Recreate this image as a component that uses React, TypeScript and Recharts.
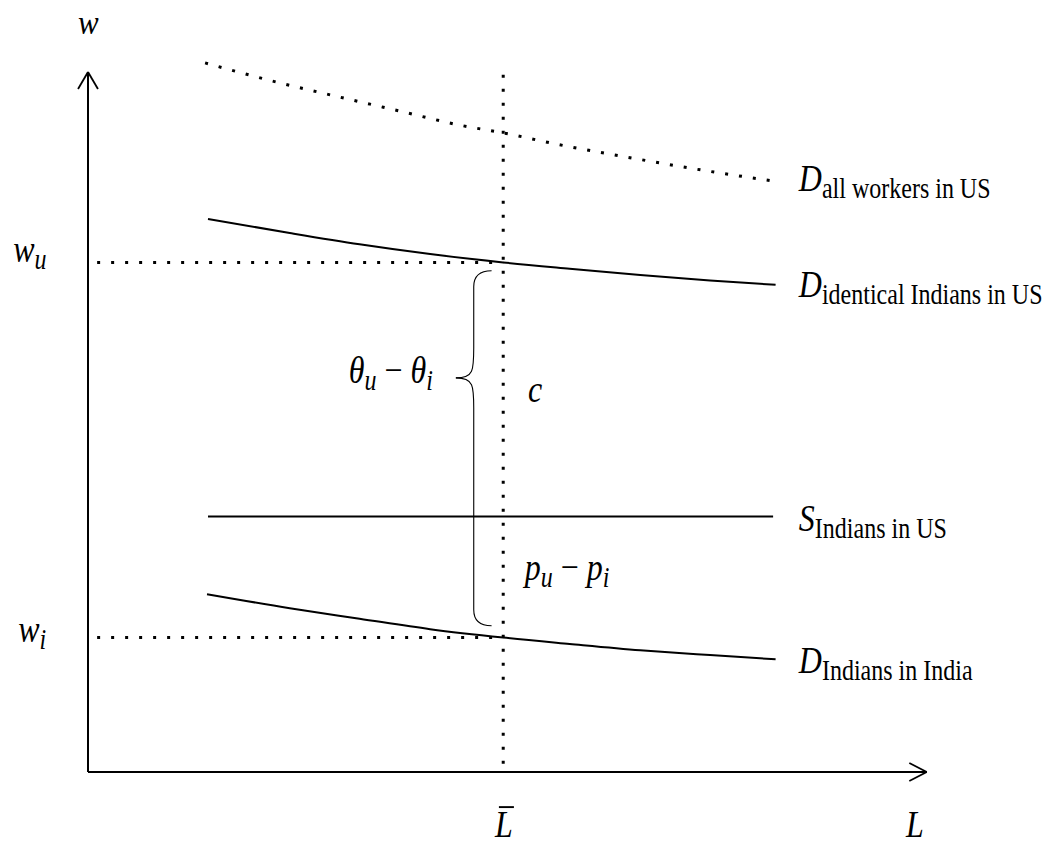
import React from 'react';
import { ComposedChart, Line, XAxis, YAxis, ReferenceLine, ReferenceDot } from 'recharts';

// labour L (x) and wage w (y); L-bar = 50
const allWorkersL = [14.1, 21.9, 30.0, 37.6, 44.8, 50, 56.8, 66.5, 74.9, 82.7];
const allWorkersW = [101.3, 98.8, 96.5, 94.4, 92.4, 91.3, 89.6, 87.5, 85.8, 84.4];
const identicalL = [14.45, 24.3, 32.7, 41.2, 50, 58.0, 66.5, 74.9, 82.8];
const identicalW = [79.0, 77.0, 75.4, 74.0, 72.8, 71.9, 71.0, 70.2, 69.6];
const supplyL = [14.45, 82.5];
const supplyW = [36.5, 36.5];
const indiaL = [14.33, 24.3, 32.7, 41.2, 50, 58.0, 66.5, 74.9, 82.8];
const indiaW = [25.4, 23.4, 21.9, 20.4, 19.2, 18.3, 17.4, 16.7, 16.1];

const L_BAR = 50;
const W_U = 72.8;
const W_I = 19.2;

const zip = (ls: number[], ws: number[]) => ls.map((L, i) => ({ L, w: ws[i] }));

const allWorkers = zip(allWorkersL, allWorkersW);
const identical = zip(identicalL, identicalW);
const supply = zip(supplyL, supplyW);
const india = zip(indiaL, indiaW);

const FONT = '"Liberation Serif", "Times New Roman", serif';
const DOTS = '3 11';

type Part = { t: string; size?: number; italic?: boolean; dy?: number };

const MathText = ({ cx, cy, parts, bar, stretch = 1.2 }: { cx?: number; cy?: number; parts: Part[]; bar?: boolean; stretch?: number }) => (
  <g transform={`translate(${cx},${cy}) scale(1,${stretch})`}>
    <text x={0} y={0} fontFamily={FONT} fill="#000">
      {parts.map((p, i) => (
        <tspan
          key={i}
          fontSize={p.size ?? 32}
          fontStyle={p.italic === false ? 'normal' : 'italic'}
          dy={p.dy ?? 0}
        >
          {p.t}
        </tspan>
      ))}
    </text>
    {bar && <line x1={4} x2={19} y1={-25} y2={-25} stroke="#000" strokeWidth={1.6} />}
  </g>
);

// half of a "{" brace: from an end (x1,y1) to the tip (x2,y2)
const HalfBrace = (props: any) => {
  const { x1, y1, x2, y2 } = props;
  const xs = (x1 + x2) / 2;
  const d = y2 > y1 ? 1 : -1;
  const path = `M${x1},${y1} Q${xs},${y1} ${xs},${y1 + d * 16} L${xs},${y2 - d * 30} C${xs},${y2 - d * 8} ${xs},${y2} ${x2},${y2}`;
  return <path d={path} fill="none" stroke="#000" strokeWidth={1.1} />;
};

const sub = (t: string, italic = false): Part => ({ t, size: 24, italic, dy: 6 });

const App: React.FC = () => {
  return (
    <div style={{ position: 'absolute', left: 0, top: 0, width: 1052, height: 848, background: '#fff' }}>
      <ComposedChart width={1052} height={848} margin={{ top: 2, right: 9, left: 88, bottom: 76 }}>
        <XAxis type="number" dataKey="L" domain={[0, 115]} hide />
        <YAxis type="number" dataKey="w" domain={[0, 110]} hide />

        {/* axes with arrow heads */}
        <ReferenceLine segment={[{ x: 0, y: 0 }, { x: 0, y: 100 }]} stroke="#000" strokeWidth={2} ifOverflow="visible" />
        <ReferenceLine segment={[{ x: 0, y: 0 }, { x: 101, y: 0 }]} stroke="#000" strokeWidth={2} ifOverflow="visible" />
        <ReferenceLine segment={[{ x: -1.2, y: 97.57 }, { x: 0, y: 100 }]} stroke="#000" strokeWidth={1.8} ifOverflow="visible" />
        <ReferenceLine segment={[{ x: 1.2, y: 97.57 }, { x: 0, y: 100 }]} stroke="#000" strokeWidth={1.8} ifOverflow="visible" />
        <ReferenceLine segment={[{ x: 98.9, y: 1.29 }, { x: 101, y: 0 }]} stroke="#000" strokeWidth={1.8} ifOverflow="visible" />
        <ReferenceLine segment={[{ x: 98.9, y: -1.29 }, { x: 101, y: 0 }]} stroke="#000" strokeWidth={1.8} ifOverflow="visible" />

        {/* dotted guides */}
        <ReferenceLine segment={[{ x: L_BAR, y: 99.6 }, { x: L_BAR, y: 0 }]} stroke="#000" strokeWidth={3} strokeDasharray={DOTS} ifOverflow="visible" />
        <ReferenceLine segment={[{ x: 1.1, y: W_U }, { x: L_BAR, y: W_U }]} stroke="#000" strokeWidth={3} strokeDasharray={DOTS} ifOverflow="visible" />
        <ReferenceLine segment={[{ x: 1.1, y: W_I }, { x: L_BAR, y: W_I }]} stroke="#000" strokeWidth={3} strokeDasharray={DOTS} ifOverflow="visible" />

        <Line data={allWorkers} dataKey="w" type="monotone" stroke="#000" strokeWidth={3} strokeDasharray={DOTS} dot={false} activeDot={false} isAnimationActive={false} />
        <Line data={identical} dataKey="w" type="monotone" stroke="#000" strokeWidth={2} dot={false} activeDot={false} isAnimationActive={false} />
        <Line data={supply} dataKey="w" type="linear" stroke="#000" strokeWidth={2} dot={false} activeDot={false} isAnimationActive={false} />
        <Line data={india} dataKey="w" type="monotone" stroke="#000" strokeWidth={2} dot={false} activeDot={false} isAnimationActive={false} />

        {/* brace */}
        <ReferenceLine segment={[{ x: 48.6, y: 71.6 }, { x: 44.3, y: 56.3 }]} shape={HalfBrace} ifOverflow="visible" />
        <ReferenceLine segment={[{ x: 48.6, y: 20.9 }, { x: 44.3, y: 56.3 }]} shape={HalfBrace} ifOverflow="visible" />

        {/* labels */}
        <ReferenceDot x={-1.2} y={105.4} r={0} ifOverflow="visible" shape={(p: any) => <MathText {...p} stretch={1.1} parts={[{ t: 'w', size: 31 }]} />} />
        <ReferenceDot x={-9.0} y={72.86} r={0} ifOverflow="visible" shape={(p: any) => <MathText {...p} parts={[{ t: 'w' }, sub('u', true)]} />} />
        <ReferenceDot x={-8.4} y={18.57} r={0} ifOverflow="visible" shape={(p: any) => <MathText {...p} parts={[{ t: 'w' }, sub('i', true)]} />} />
        <ReferenceDot x={49.0} y={-9.3} r={0} ifOverflow="visible" shape={(p: any) => <MathText {...p} parts={[{ t: 'L' }]} bar />} />
        <ReferenceDot x={98.5} y={-9.3} r={0} ifOverflow="visible" shape={(p: any) => <MathText {...p} parts={[{ t: 'L' }]} />} />
        <ReferenceDot x={85.6} y={83.0} r={0} ifOverflow="visible" shape={(p: any) => <MathText {...p} parts={[{ t: 'D' }, sub('all workers in US')]} />} />
        <ReferenceDot x={85.6} y={67.86} r={0} ifOverflow="visible" shape={(p: any) => <MathText {...p} parts={[{ t: 'D' }, sub('identical Indians in US')]} />} />
        <ReferenceDot x={85.6} y={34.43} r={0} ifOverflow="visible" shape={(p: any) => <MathText {...p} parts={[{ t: 'S' }, sub('Indians in US')]} />} />
        <ReferenceDot x={85.6} y={14.14} r={0} ifOverflow="visible" shape={(p: any) => <MathText {...p} parts={[{ t: 'D' }, sub('Indians in India')]} />} />
        <ReferenceDot x={31.4} y={55.57} r={0} ifOverflow="visible" shape={(p: any) => (
          <MathText {...p} parts={[{ t: 'θ' }, sub('u', true), { t: ' − ', italic: false, dy: -6 }, { t: 'θ' }, sub('i', true)]} />
        )} />
        <ReferenceDot x={52.97} y={52.86} r={0} ifOverflow="visible" shape={(p: any) => <MathText {...p} parts={[{ t: 'c' }]} />} />
        <ReferenceDot x={52.6} y={27.43} r={0} ifOverflow="visible" shape={(p: any) => (
          <MathText {...p} parts={[{ t: 'p' }, sub('u', true), { t: ' − ', italic: false, dy: -6 }, { t: 'p' }, sub('i', true)]} />
        )} />
      </ComposedChart>
    </div>
  );
};

export default App;
